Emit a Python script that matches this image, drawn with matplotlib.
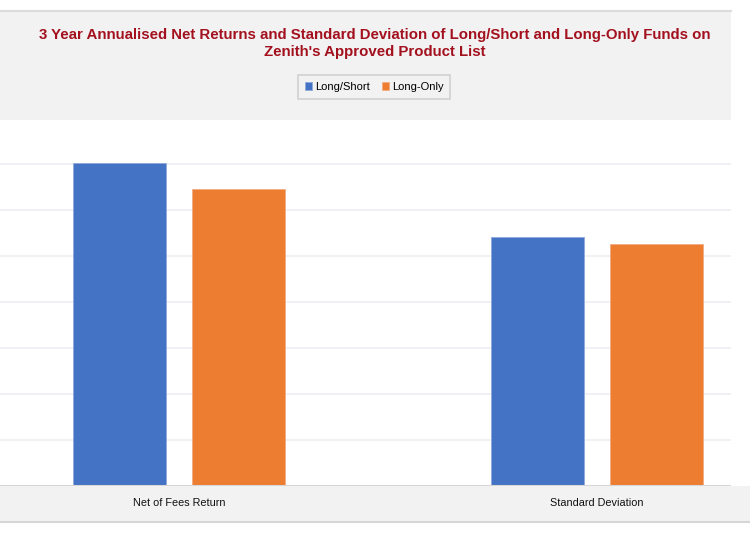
import matplotlib
matplotlib.use("Agg")
import matplotlib.pyplot as plt
from matplotlib.patches import Rectangle
import numpy as np

plt.rcParams['font.family'] = ['Liberation Sans', 'DejaVu Sans']

# values (axis labels are cropped away in the source)
categories = ["Net of Fees Return", "Standard Deviation"]
series_names = ["Long/Short", "Long-Only"]
long_short = [7.02, 5.41]
long_only = [6.46, 5.26]
colors = ["#4472C4", "#ED7D31"]

W, H = 750, 536
fig = plt.figure(figsize=(7.5, 5.36), dpi=100)
fig.patch.set_facecolor("white")

def fx(px):
    return px / W

def fy(py):
    return 1 - py / H

# grey header band and grey x-axis band
fig.patches.append(Rectangle((0, fy(120)), fx(731), fy(11) - fy(120),
                             transform=fig.transFigure, facecolor="#f2f2f2",
                             edgecolor="none", zorder=0))
fig.add_artist(plt.Line2D([0, fx(731)], [fy(11), fy(11)], color="#dcdcdc", lw=1.5))
fig.patches.append(Rectangle((0, fy(522)), 1, fy(486) - fy(522),
                             transform=fig.transFigure, facecolor="#f2f2f2",
                             edgecolor="none", zorder=0))
fig.add_artist(plt.Line2D([0, 1], [fy(522), fy(522)], color="#d6d6d6", lw=1.5))

# plot area
ax = fig.add_axes([0, fy(486), fx(731), fy(120) - fy(486)])
ax.set_facecolor("white")
x = np.arange(len(categories))
width = 0.2225
off = 0.142
b1 = ax.bar(x - off, long_short, width, color=colors[0], edgecolor="#8fa9da",
            linewidth=0.6, label=series_names[0], zorder=3)
b2 = ax.bar(x + off, long_only, width, color=colors[1], edgecolor="#f3ad80",
            linewidth=0.6, label=series_names[1], zorder=3)
ax.set_xlim(-0.428, 1.32)
ax.set_ylim(0, 7.96)
ax.set_yticks(np.arange(1, 8))
ax.yaxis.grid(True, color="#eeeef4", lw=1.2, zorder=0)
ax.set_yticklabels([])
ax.tick_params(left=False, bottom=False, labelbottom=False)
for s in ax.spines.values():
    s.set_visible(False)
ax.axhline(0, color="#d6d6d6", lw=1.5, zorder=4)

for xi, c in zip(x, categories):
    fig.text(fx(179 + 418 * xi), fy(503), c, ha="center", va="center",
             fontsize=7.8, color="#111111")

fig.text(0.5, fy(35), "3 Year Annualised Net Returns and Standard Deviation of Long/Short and Long-Only Funds on",
         ha="center", va="center", fontsize=10.8, fontweight="bold", color="#A3101E")
fig.text(0.5, fy(52), "Zenith's Approved Product List",
         ha="center", va="center", fontsize=10.8, fontweight="bold", color="#A3101E")

leg = fig.legend(handles=[b1, b2], loc="center", bbox_to_anchor=(fx(374), fy(87)),
                 ncol=2, fontsize=8, frameon=True, fancybox=False,
                 handlelength=0.65, handleheight=0.65, handletextpad=0.25,
                 columnspacing=1.1, borderpad=0.6, borderaxespad=0)
leg.get_frame().set_edgecolor("#c8c8c8")
leg.get_frame().set_facecolor("#f2f2f2")
leg.get_frame().set_linewidth(1.2)

fig.savefig("out.png", dpi=100)
